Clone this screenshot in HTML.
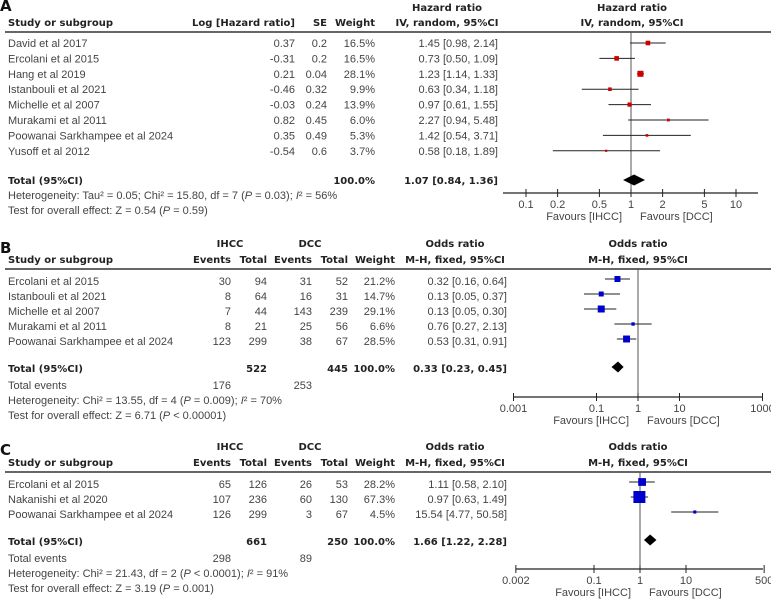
<!DOCTYPE html>
<html><head><meta charset="utf-8"><style>
html,body{margin:0;padding:0;background:#fff;}
svg{display:block;}
text{font-family:"Liberation Sans",sans-serif;font-size:11px;fill:#444;}
.b{font-family:"DejaVu Sans","Liberation Sans",sans-serif;font-weight:bold;font-size:10px;fill:#222;}
.lbl{font-family:"DejaVu Sans","Liberation Sans",sans-serif;font-weight:bold;font-size:15px;fill:#111;}
</style></head><body>
<svg id="fig" width="771" height="602" viewBox="0 0 771 602" xmlns="http://www.w3.org/2000/svg">
<text class="lbl" x="0" y="11">A</text>
<text class="lbl" x="0" y="253">B</text>
<text class="lbl" x="0" y="455">C</text>
<text x="8" y="199">Heterogeneity: Tau² = 0.05; Chi² = 15.80, df = 7 (<tspan font-style="italic">P</tspan> = 0.03); <tspan font-style="italic">I</tspan>² = 56%</text>
<text x="8" y="214">Test for overall effect: Z = 0.54 (<tspan font-style="italic">P</tspan> = 0.59)</text>
<text x="8" y="404">Heterogeneity: Chi² = 13.55, df = 4 (<tspan font-style="italic">P</tspan> = 0.009); <tspan font-style="italic">I</tspan>² = 70%</text>
<text x="8" y="419">Test for overall effect: Z = 6.71 (<tspan font-style="italic">P</tspan> &lt; 0.00001)</text>
<text x="8" y="577">Heterogeneity: Chi² = 21.43, df = 2 (<tspan font-style="italic">P</tspan> &lt; 0.0001); <tspan font-style="italic">I</tspan>² = 91%</text>
<text x="8" y="592">Test for overall effect: Z = 3.19 (<tspan font-style="italic">P</tspan> = 0.001)</text>
</svg>
<script>
// Panel A data
const aStudies=["David et al 2017","Ercolani et al 2015","Hang et al 2019","Istanbouli et al 2021","Michelle et al 2007","Murakami et al 2011","Poowanai Sarkhampee et al 2024","Yusoff et al 2012"];
const aLogHR=["0.37","-0.31","0.21","-0.46","-0.03","0.82","0.35","-0.54"];
const aSE=["0.2","0.2","0.04","0.32","0.24","0.45","0.49","0.6"];
const aWeight=[16.5,16.5,28.1,9.9,13.9,6.0,5.3,3.7];
const aHR=[1.45,0.73,1.23,0.63,0.97,2.27,1.42,0.58];
const aLo=[0.98,0.50,1.14,0.34,0.61,0.94,0.54,0.18];
const aHi=[2.14,1.09,1.33,1.18,1.55,5.48,3.71,1.89];
const aTotal=[1.07,0.84,1.36];
const aTicks=[0.1,0.2,0.5,1,2,5,10];
const aTickLabels=["0.1","0.2","0.5","1","2","5","10"];
// Panel B data
const bStudies=["Ercolani et al 2015","Istanbouli et al 2021","Michelle et al 2007","Murakami et al 2011","Poowanai Sarkhampee et al 2024"];
const bIhccEvents=[30,8,7,8,123];
const bIhccTotal=[94,64,44,21,299];
const bDccEvents=[31,16,143,25,38];
const bDccTotal=[52,31,239,56,67];
const bWeight=[21.2,14.7,29.1,6.6,28.5];
const bOR=[0.32,0.13,0.13,0.76,0.53];
const bLo=[0.16,0.05,0.05,0.27,0.31];
const bHi=[0.64,0.37,0.30,2.13,0.91];
const bTotal=[0.33,0.23,0.45];
const bSums=[522,445,176,253];
const bTicks=[0.001,0.1,1,10,1000];
const bTickLabels=["0.001","0.1","1","10","1000"];
// Panel C data
const cStudies=["Ercolani et al 2015","Nakanishi et al 2020","Poowanai Sarkhampee et al 2024"];
const cIhccEvents=[65,107,126];
const cIhccTotal=[126,236,299];
const cDccEvents=[26,60,3];
const cDccTotal=[53,130,67];
const cWeight=[28.2,67.3,4.5];
const cOR=[1.11,0.97,15.54];
const cLo=[0.58,0.63,4.77];
const cHi=[2.10,1.49,50.58];
const cTotal=[1.66,1.22,2.28];
const cSums=[661,250,298,89];
const cTicks=[0.002,0.1,1,10,500];
const cTickLabels=["0.002","0.1","1","10","500"];

const svg=document.getElementById('fig');
const NS="http://www.w3.org/2000/svg";
function mk(tag,attrs,name){
  const el=document.createElementNS(NS,tag);
  for(const k in attrs) el.setAttribute(k,attrs[k]);
  
  
  svg.appendChild(el);return el;
}
function txt(x,y,s,anchor,cls,name){
  const t=mk('text',{x:x,y:y+4,'text-anchor':anchor||'start'},name);
  if(cls) t.setAttribute('class',cls);
  t.textContent=s;return t;
}
const f2=v=>v.toFixed(2);
function ci(v,l,h){return f2(v)+" ["+f2(l)+", "+f2(h)+"]";}
function logScale(x1,dec){return v=>x1+Math.log10(v)*dec;}

function plot(o){
  const X=logScale(o.x1,o.dec);
  mk('line',{x1:5,y1:o.lineY,x2:771,y2:o.lineY,stroke:'#333','stroke-width':1.5},o.p+'-header-rule');
  mk('line',{x1:X(1),y1:o.lineY,x2:X(1),y2:o.axisY,stroke:'#555','stroke-width':1},o.p+'-null-line');
  mk('line',{x1:o.ax0,y1:o.axisY,x2:o.ax1,y2:o.axisY,stroke:'#222','stroke-width':1.2},o.p+'-x-axis');
  o.ticks.forEach((t,i)=>{
    mk('line',{x1:X(t),y1:o.axisY-4,x2:X(t),y2:o.axisY+4,stroke:'#222','stroke-width':1},o.p+'-tick');
    txt(X(t),o.axisY+11,o.tickLabels[i],'middle',null,o.p+'-tick-label');
  });
  txt(X(1)-9,o.axisY+23,'Favours [IHCC]','end',null,o.p+'-favours-ihcc');
  txt(X(1)+9,o.axisY+23,'Favours [DCC]','start',null,o.p+'-favours-dcc');
  const maxW=Math.max(...o.w);
  o.est.forEach((v,i)=>{
    const y=o.rowsY[i];
    mk('line',{x1:X(o.lo[i]),y1:y,x2:X(o.hi[i]),y2:y,stroke:'#222','stroke-width':1},o.p+'-ci-line');
    const s=o.maxSq*Math.sqrt(o.w[i]/maxW);
    mk('rect',{x:X(v)-s/2,y:y-s/2,width:s,height:s,fill:o.color},o.p+'-study-square');
  });
  const t=o.total, ty=o.totalY;
  mk('polygon',{points:`${X(t[1])},${ty} ${X(t[0])},${ty-5.5} ${X(t[2])},${ty} ${X(t[0])},${ty+5.5}`,fill:'#000'},o.p+'-total-diamond');
}

// ---- Panel A ----
txt(447,7,'Hazard ratio','middle','b','a-hr-header');
txt(632,7,'Hazard ratio','middle','b','a-plot-header');
txt(8,22,'Study or subgroup','start','b','a-study-header');
txt(295,22,'Log [Hazard ratio]','end','b','a-loghr-header');
txt(327,22,'SE','end','b','a-se-header');
txt(375,22,'Weight','end','b','a-weight-header');
txt(447,22,'IV, random, 95%CI','middle','b','a-method-header');
txt(632,22,'IV, random, 95%CI','middle','b','a-plot-method-header');
const aRows=aStudies.map((s,i)=>43+i*15.4);
aStudies.forEach((s,i)=>{
  const y=aRows[i];
  txt(8,y,s,'start',null,'a-study-name');
  txt(295,y,aLogHR[i],'end',null,'a-loghr');
  txt(327,y,aSE[i],'end',null,'a-se');
  txt(375,y,aWeight[i].toFixed(1)+'%','end',null,'a-weight');
  txt(498,y,ci(aHR[i],aLo[i],aHi[i]),'end',null,'a-hr-ci');
});
txt(8,180,'Total (95%CI)','start','b','a-total-label');
txt(375,180,'100.0%','end','b','a-total-weight');
txt(498,180,ci(aTotal[0],aTotal[1],aTotal[2]),'end','b','a-total-ci');
plot({p:'a',x1:631,dec:105,lineY:32,axisY:193,ax0:503,ax1:758,ticks:aTicks,tickLabels:aTickLabels,est:aHR,lo:aLo,hi:aHi,w:aWeight,rowsY:aRows,maxSq:6,color:'#cc0000',total:aTotal,totalY:180});

// ---- Panels B & C ----
function twoArm(p,base,studies,ie,it,de,dt,w,or,lo,hi,tot,sums,ticks,labels,x1,dec,ax0,ax1,axisY,rowStep,maxSq){
  txt(230,base,'IHCC','middle','b',p+'-ihcc-header');
  txt(310,base,'DCC','middle','b',p+'-dcc-header');
  txt(455,base,'Odds ratio','middle','b',p+'-or-header');
  txt(638,base,'Odds ratio','middle','b',p+'-plot-header');
  const r2=base+16;
  txt(8,r2,'Study or subgroup','start','b',p+'-study-header');
  txt(231,r2,'Events','end','b',p+'-ihcc-events-header');
  txt(267,r2,'Total','end','b',p+'-ihcc-total-header');
  txt(312,r2,'Events','end','b',p+'-dcc-events-header');
  txt(348,r2,'Total','end','b',p+'-dcc-total-header');
  txt(395,r2,'Weight','end','b',p+'-weight-header');
  txt(455,r2,'M-H, fixed, 95%CI','middle','b',p+'-method-header');
  txt(638,r2,'M-H, fixed, 95%CI','middle','b',p+'-plot-method-header');
  const lineY=base+26;
  const rows=studies.map((s,i)=>base+38+i*rowStep);
  studies.forEach((s,i)=>{
    const y=rows[i];
    txt(8,y,s,'start',null,p+'-study-name');
    txt(231,y,String(ie[i]),'end',null,p+'-ihcc-events');
    txt(267,y,String(it[i]),'end',null,p+'-ihcc-total');
    txt(312,y,String(de[i]),'end',null,p+'-dcc-events');
    txt(348,y,String(dt[i]),'end',null,p+'-dcc-total');
    txt(395,y,w[i].toFixed(1)+'%','end',null,p+'-weight');
    txt(507,y,ci(or[i],lo[i],hi[i]),'end',null,p+'-or-ci');
  });
  const ty=rows[rows.length-1]+27;
  txt(8,ty,'Total (95%CI)','start','b',p+'-total-label');
  txt(267,ty,String(sums[0]),'end','b',p+'-ihcc-sum');
  txt(348,ty,String(sums[1]),'end','b',p+'-dcc-sum');
  txt(395,ty,'100.0%','end','b',p+'-total-weight');
  txt(507,ty,ci(tot[0],tot[1],tot[2]),'end','b',p+'-total-ci');
  txt(8,ty+17,'Total events','start',null,p+'-total-events-label');
  txt(231,ty+17,String(sums[2]),'end',null,p+'-ihcc-events-sum');
  txt(312,ty+17,String(sums[3]),'end',null,p+'-dcc-events-sum');
  plot({p:p,x1:x1,dec:dec,lineY:lineY,axisY:axisY,ax0:ax0,ax1:ax1,ticks:ticks,tickLabels:labels,est:or,lo:lo,hi:hi,w:w,rowsY:rows.map(y=>y-2),maxSq:maxSq,color:'#0000cc',total:tot,totalY:ty-1});
}
twoArm('b',243,bStudies,bIhccEvents,bIhccTotal,bDccEvents,bDccTotal,bWeight,bOR,bLo,bHi,bTotal,bSums,bTicks,bTickLabels,638,41.5,513,762,397,15,7);
twoArm('c',446,cStudies,cIhccEvents,cIhccTotal,cDccEvents,cDccTotal,cWeight,cOR,cLo,cHi,cTotal,cSums,cTicks,cTickLabels,640,46,516,763,569,15,12);
</script>
</body></html>
